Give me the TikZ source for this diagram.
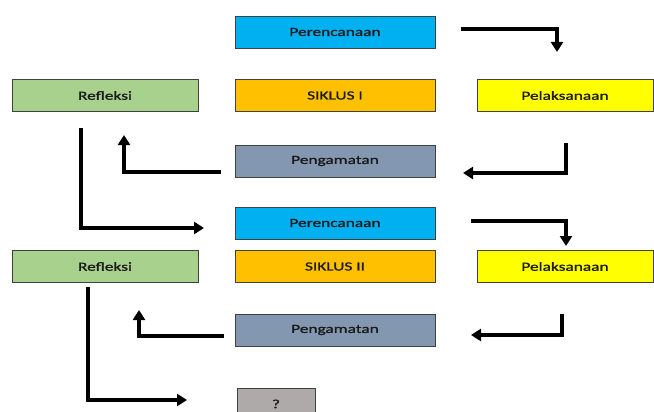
\documentclass[tikz,border=0pt]{standalone}
\usepackage{fontspec}
\setmainfont{Carlito}
\newfontfamily\lblfont[FakeStretch=1.4,FakeBold=1.2]{Carlito}
\usetikzlibrary{arrows.meta}
\definecolor{cBlue}{HTML}{00B0F0}
\definecolor{cGreen}{HTML}{A9D18E}
\definecolor{cOrange}{HTML}{FFC000}
\definecolor{cYellow}{HTML}{FFFF00}
\definecolor{cSlate}{HTML}{8497B0}
\definecolor{cGray}{HTML}{AEAAAA}
\definecolor{cBorder}{HTML}{404040}
\definecolor{cText}{HTML}{1A1A1A}
\tikzset{
  box/.style={draw=cBorder, line width=0.9pt, rectangle, inner sep=0pt,
    minimum height=32pt, text=cText, font=\lblfont\fontsize{12.4}{14}\selectfont},
  widebox/.style={box, minimum width=200pt},
  sidebox/.style={box, minimum width=186pt},
  rightbox/.style={box, minimum width=176pt},
  arr/.style={line width=3.2pt, line join=miter, -{Triangle[length=10pt,width=12pt]}}
}
\begin{document}
\begin{tikzpicture}[x=1pt,y=-1pt]
\useasboundingbox (0,0) rectangle (654,412);
% cycle I
\node[widebox, fill=cBlue] (per1) at (335,32) {Perencanaan};
\node[sidebox, fill=cGreen] (ref1) at (105,95.5) {Refleksi};
\node[widebox, fill=cOrange] (sik1) at (335,95.5) {SIKLUS I};
\node[rightbox, fill=cYellow] (pel1) at (565,95.5) {Pelaksanaan};
\node[widebox, fill=cSlate] (pen1) at (335,161) {Pengamatan};
% cycle II
\node[widebox, fill=cBlue] (per2) at (335,223) {Perencanaan};
\node[sidebox, fill=cGreen] (ref2) at (105,266.5) {Refleksi};
\node[widebox, fill=cOrange] (sik2) at (335,266.5) {SIKLUS II};
\node[rightbox, fill=cYellow] (pel2) at (565,266.5) {Pelaksanaan};
\node[widebox, fill=cSlate] (pen2) at (335,330) {Pengamatan};
\node[box, fill=cGray, minimum width=78pt] (q) at (276,404) {?};
% connector end points
\coordinate (a1s) at (461,29);  \coordinate (a1e) at (557,52);
\coordinate (a2s) at (566,143); \coordinate (a2e) at (463,173);
\coordinate (a3s) at (221,172); \coordinate (a3e) at (124,135);
\coordinate (a4s) at (81,128);  \coordinate (a4e) at (204,228);
\coordinate (a5s) at (471,221); \coordinate (a5e) at (566,246);
\coordinate (a6s) at (562,314); \coordinate (a6e) at (471,335);
\coordinate (a7s) at (224,336); \coordinate (a7e) at (139,310);
\coordinate (a8s) at (88,287);  \coordinate (a8e) at (187,400);
\draw[arr] (a1s) -| (a1e);
\draw[arr] (a2s) |- (a2e);
\draw[arr] (a3s) -| (a3e);
\draw[arr] (a4s) |- (a4e);
\draw[arr] (a5s) -| (a5e);
\draw[arr] (a6s) |- (a6e);
\draw[arr] (a7s) -| (a7e);
\draw[arr] (a8s) |- (a8e);
\end{tikzpicture}
\end{document}
